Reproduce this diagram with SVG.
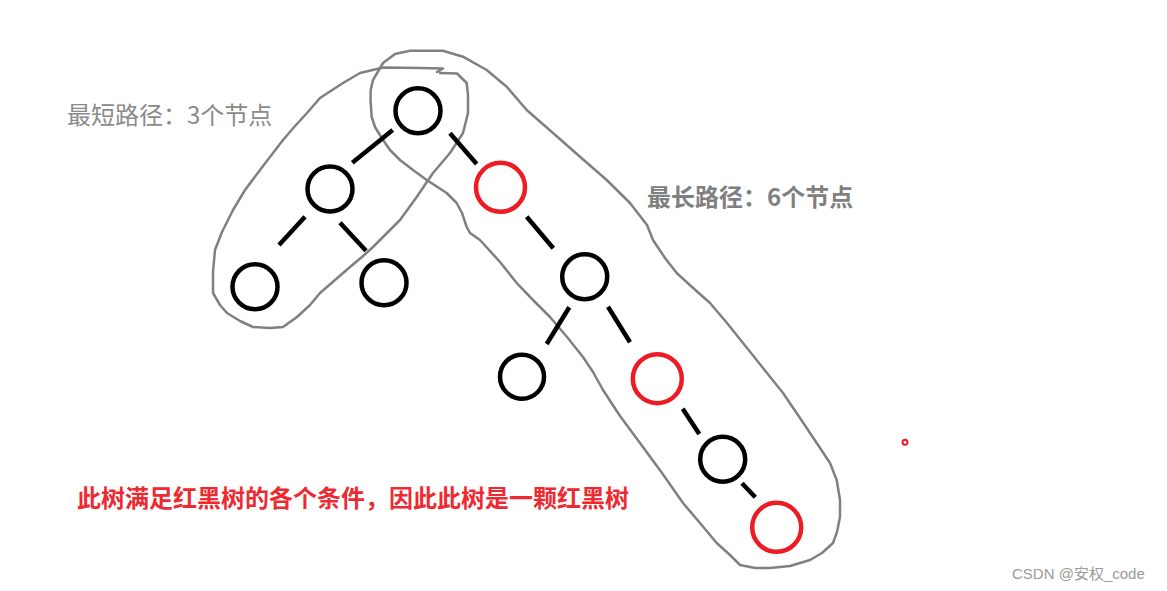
<svg xmlns="http://www.w3.org/2000/svg" width="1167" height="591" viewBox="0 0 1167 591">
<style>
.nb{fill:none;stroke:#000;stroke-width:4.5}
.nr{fill:none;stroke:#ed1c24;stroke-width:4.5}
.e{stroke:#000;stroke-width:4.5;stroke-linecap:butt}
.loop{fill:none;stroke:#808080;stroke-width:2.5;stroke-linejoin:round;stroke-linecap:round}
.lbl{font-family:"Noto Sans CJK SC","Liberation Sans",sans-serif;font-size:24px}
</style>
<rect width="1167" height="591" fill="#fff"/>
<g id="loops">
<path id="loop-short" class="loop" d="M437,72 L443,68.5 L420,68 L383,67.5 L360,73 L343,83 L320,98 L307,113 L295,126 L283,140 L260,170 L245,190 L233,210 L222,232 L215,250 L213,272 L213,293 L220,305 L227,313 L240,321 L253,327 L270,328 L283,327 L297,317 L310,305 L320,293 L335,280 L350,267 L362,257 L373,247 L385,235 L400,220 L416.7,197 L433,173 L450,153 L463,133 L468,113 L468,95 L466.7,83 L457,73.5 L440,73"/>
<path id="loop-long" class="loop" d="M383,63 L395,54 L410,50.7 L443,50.7 L463,56.7 L486.7,70 L506.7,86.7 L526.7,110 L553,133 L580,156.7 L606.7,180 L630,203 L647,225 L653,240 L665,258 L676.7,273 L692,287 L710,303 L727,323 L743,343 L763,368 L783,393 L800,418 L816.7,443 L830,463 L836.7,480 L840,500 L840,517 L837,532 L833,543 L822,553 L810,560 L790,566 L770,568 L755,568 L740,565 L730,555 L716.7,543 L700,523 L683,503 L662,473 L640,443 L620,416 L603,390 L593,372 L583,357 L567,337 L550,317 L533,300 L516.7,283 L500,262 L480,240 L470,233 L466.7,227 L462,213 L456.7,203 L446.7,193 L426.7,180 L413,170 L400,160 L390,150 L383,140 L375,127 L371.7,117 L370.5,100 L370.7,90 L373,80 L383,63"/>
</g>
<g id="connectors">
<line class="e" x1="392.7" y1="130" x2="352.3" y2="162.7"/>
<line class="e" x1="450" y1="133.3" x2="476.7" y2="164"/>
<line class="e" x1="305" y1="216.7" x2="279" y2="245"/>
<line class="e" x1="340" y1="222.7" x2="366" y2="250.7"/>
<line class="e" x1="526.7" y1="216.7" x2="553.3" y2="248.3"/>
<line class="e" x1="569.3" y1="307.3" x2="546.7" y2="344"/>
<line class="e" x1="608" y1="306.7" x2="630" y2="342.3"/>
<line class="e" x1="682.7" y1="408.7" x2="699.3" y2="434"/>
<line class="e" x1="742" y1="483.3" x2="755.3" y2="497.3"/>
</g>
<g id="n1"><circle class="nb" cx="418" cy="110.7" r="22.5"/></g>
<g id="n2"><circle class="nb" cx="330" cy="189" r="22.5"/></g>
<g id="n3"><circle class="nb" cx="255" cy="286.7" r="22.5"/></g>
<g id="n4"><circle class="nb" cx="384" cy="282.7" r="22.5"/></g>
<g id="n5"><circle class="nr" cx="500.5" cy="187.3" r="24.5"/></g>
<g id="n6"><circle class="nb" cx="584.7" cy="276.7" r="22.5"/></g>
<g id="n7"><circle class="nb" cx="522" cy="376.7" r="22"/></g>
<g id="n8"><circle class="nr" cx="657.3" cy="378.7" r="24.5"/></g>
<g id="n9"><circle class="nb" cx="722.7" cy="459.3" r="22.5"/></g>
<g id="n10"><circle class="nr" cx="776.7" cy="527.3" r="24.5"/></g>
<g id="labels">
<text class="lbl" x="67" y="124" fill="#8a8a8a">最短路径：3个节点</text>
<text class="lbl" x="647" y="206" fill="#7f7f7f" font-weight="bold">最长路径：6个节点</text>
<text class="lbl" x="77" y="507" fill="#ed2a32" font-weight="bold">此树满足红黑树的各个条件，因此此树是一颗红黑树</text>
<text x="1012" y="579" font-family="'Liberation Sans','Noto Sans CJK SC',sans-serif" font-size="15" fill="#9a9a9a">CSDN @安权_code</text>
</g>
<circle cx="905" cy="442.3" r="2.5" fill="none" stroke="#ed1c24" stroke-width="2"/>
</svg>
